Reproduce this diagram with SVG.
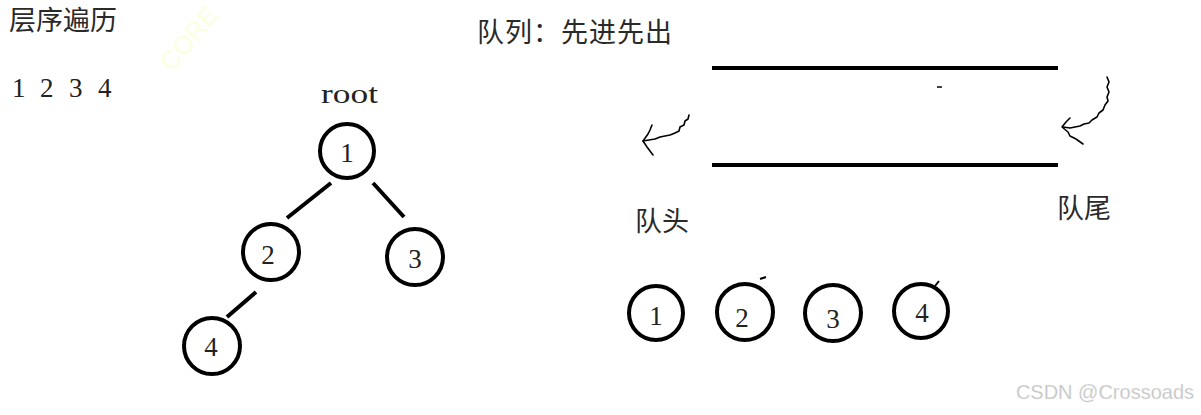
<svg xmlns="http://www.w3.org/2000/svg" width="1201" height="415" viewBox="0 0 1201 415">
<style>
.cjk{font-family:"Noto Sans CJK SC",sans-serif;font-size:27px;fill:#2a2a2a}
.ser{font-family:"Liberation Serif",serif;font-size:27px;fill:#222}
.num{font-family:"Liberation Serif",serif;font-size:27px;fill:#222;text-anchor:middle}
.node{fill:none;stroke:#000;stroke-width:4}
.edge{stroke:#000;stroke-width:4;stroke-linecap:butt;fill:none}
.hand{stroke:#000;stroke-width:1.6;fill:none;stroke-linejoin:round;stroke-linecap:round}
</style>
<rect width="1201" height="415" fill="#fff"/>
<text x="196" y="44" transform="rotate(-50 196 44)" font-family="Liberation Sans,sans-serif" font-size="26" fill="#fbffe0" text-anchor="middle">CORE</text>
<text class="cjk" x="9" y="30" textLength="108">层序遍历</text>
<g class="ser">
<text x="12" y="97">1</text><text x="40" y="97">2</text><text x="69" y="97">3</text><text x="98" y="97">4</text>
</g>
<text class="ser" x="321" y="103" textLength="57" lengthAdjust="spacingAndGlyphs">root</text>
<text class="cjk" x="477" y="42" textLength="195">队列：先进先出</text>
<g id="connectors">
<line class="edge" x1="331" y1="183" x2="287" y2="218"/>
<line class="edge" x1="373" y1="183" x2="404" y2="217"/>
<line class="edge" x1="256" y1="292" x2="227" y2="317"/>
</g>
<g id="t1"><circle class="node" cx="347" cy="151" r="27"/><text class="num" x="347" y="162">1</text></g>
<g id="t2"><circle class="node" cx="271" cy="252" r="28"/><text class="num" x="268" y="264">2</text></g>
<g id="t3"><circle class="node" cx="415" cy="257" r="28"/><text class="num" x="415" y="268">3</text></g>
<g id="t4"><circle class="node" cx="212" cy="346" r="28"/><text class="num" x="211" y="356">4</text></g>
<g id="queue">
<line class="edge" x1="712" y1="68" x2="1058" y2="68"/>
<line class="edge" x1="712" y1="165" x2="1058" y2="165"/>
<line x1="937" y1="87" x2="942" y2="87" stroke="#000" stroke-width="1.5"/>
<path class="hand" d="M689,115 L688,119 L685,121 L684,125 L680,127 L679,131 L675,133 L670,135 L665,136 L660,137 L655,139 L649,140 L643,141"/>
<path class="hand" d="M652,125 L650,130 L648,134 L643,141 L647,147 L650,151 L653,155"/>
<path class="hand" d="M1107,77 L1109,82 L1107,87 L1109,92 L1107,97 L1108,101 L1105,105 L1103,110 L1099,113 L1097,117 L1092,120 L1089,123 L1084,124 L1080,126 L1075,127 L1070,128 L1063,127"/>
<path class="hand" d="M1070,118 L1066,122 L1062,127 L1068,132 L1070,136 L1076,139 L1083,144"/>
</g>
<text class="cjk" x="635" y="231">队头</text>
<text class="cjk" x="1057" y="218">队尾</text>
<g id="q1"><circle class="node" cx="656" cy="313" r="27"/><text class="num" x="656" y="325">1</text></g>
<g id="q2"><circle class="node" cx="745" cy="312" r="28"/><line x1="760" y1="279" x2="766" y2="277" stroke="#000" stroke-width="2"/><text class="num" x="742" y="327">2</text></g>
<g id="q3"><circle class="node" cx="833" cy="313" r="28"/><text class="num" x="833" y="328">3</text></g>
<g id="q4"><circle class="node" cx="921" cy="311" r="27"/><line x1="935" y1="286" x2="939" y2="281" stroke="#000" stroke-width="2"/><text class="num" x="922" y="322">4</text></g>
<text x="1194" y="399" text-anchor="end" font-family="Liberation Sans,sans-serif" font-size="20" fill="#c4c4c4" stroke="#eee" stroke-width="0.3">CSDN @Crossoads</text>
</svg>
